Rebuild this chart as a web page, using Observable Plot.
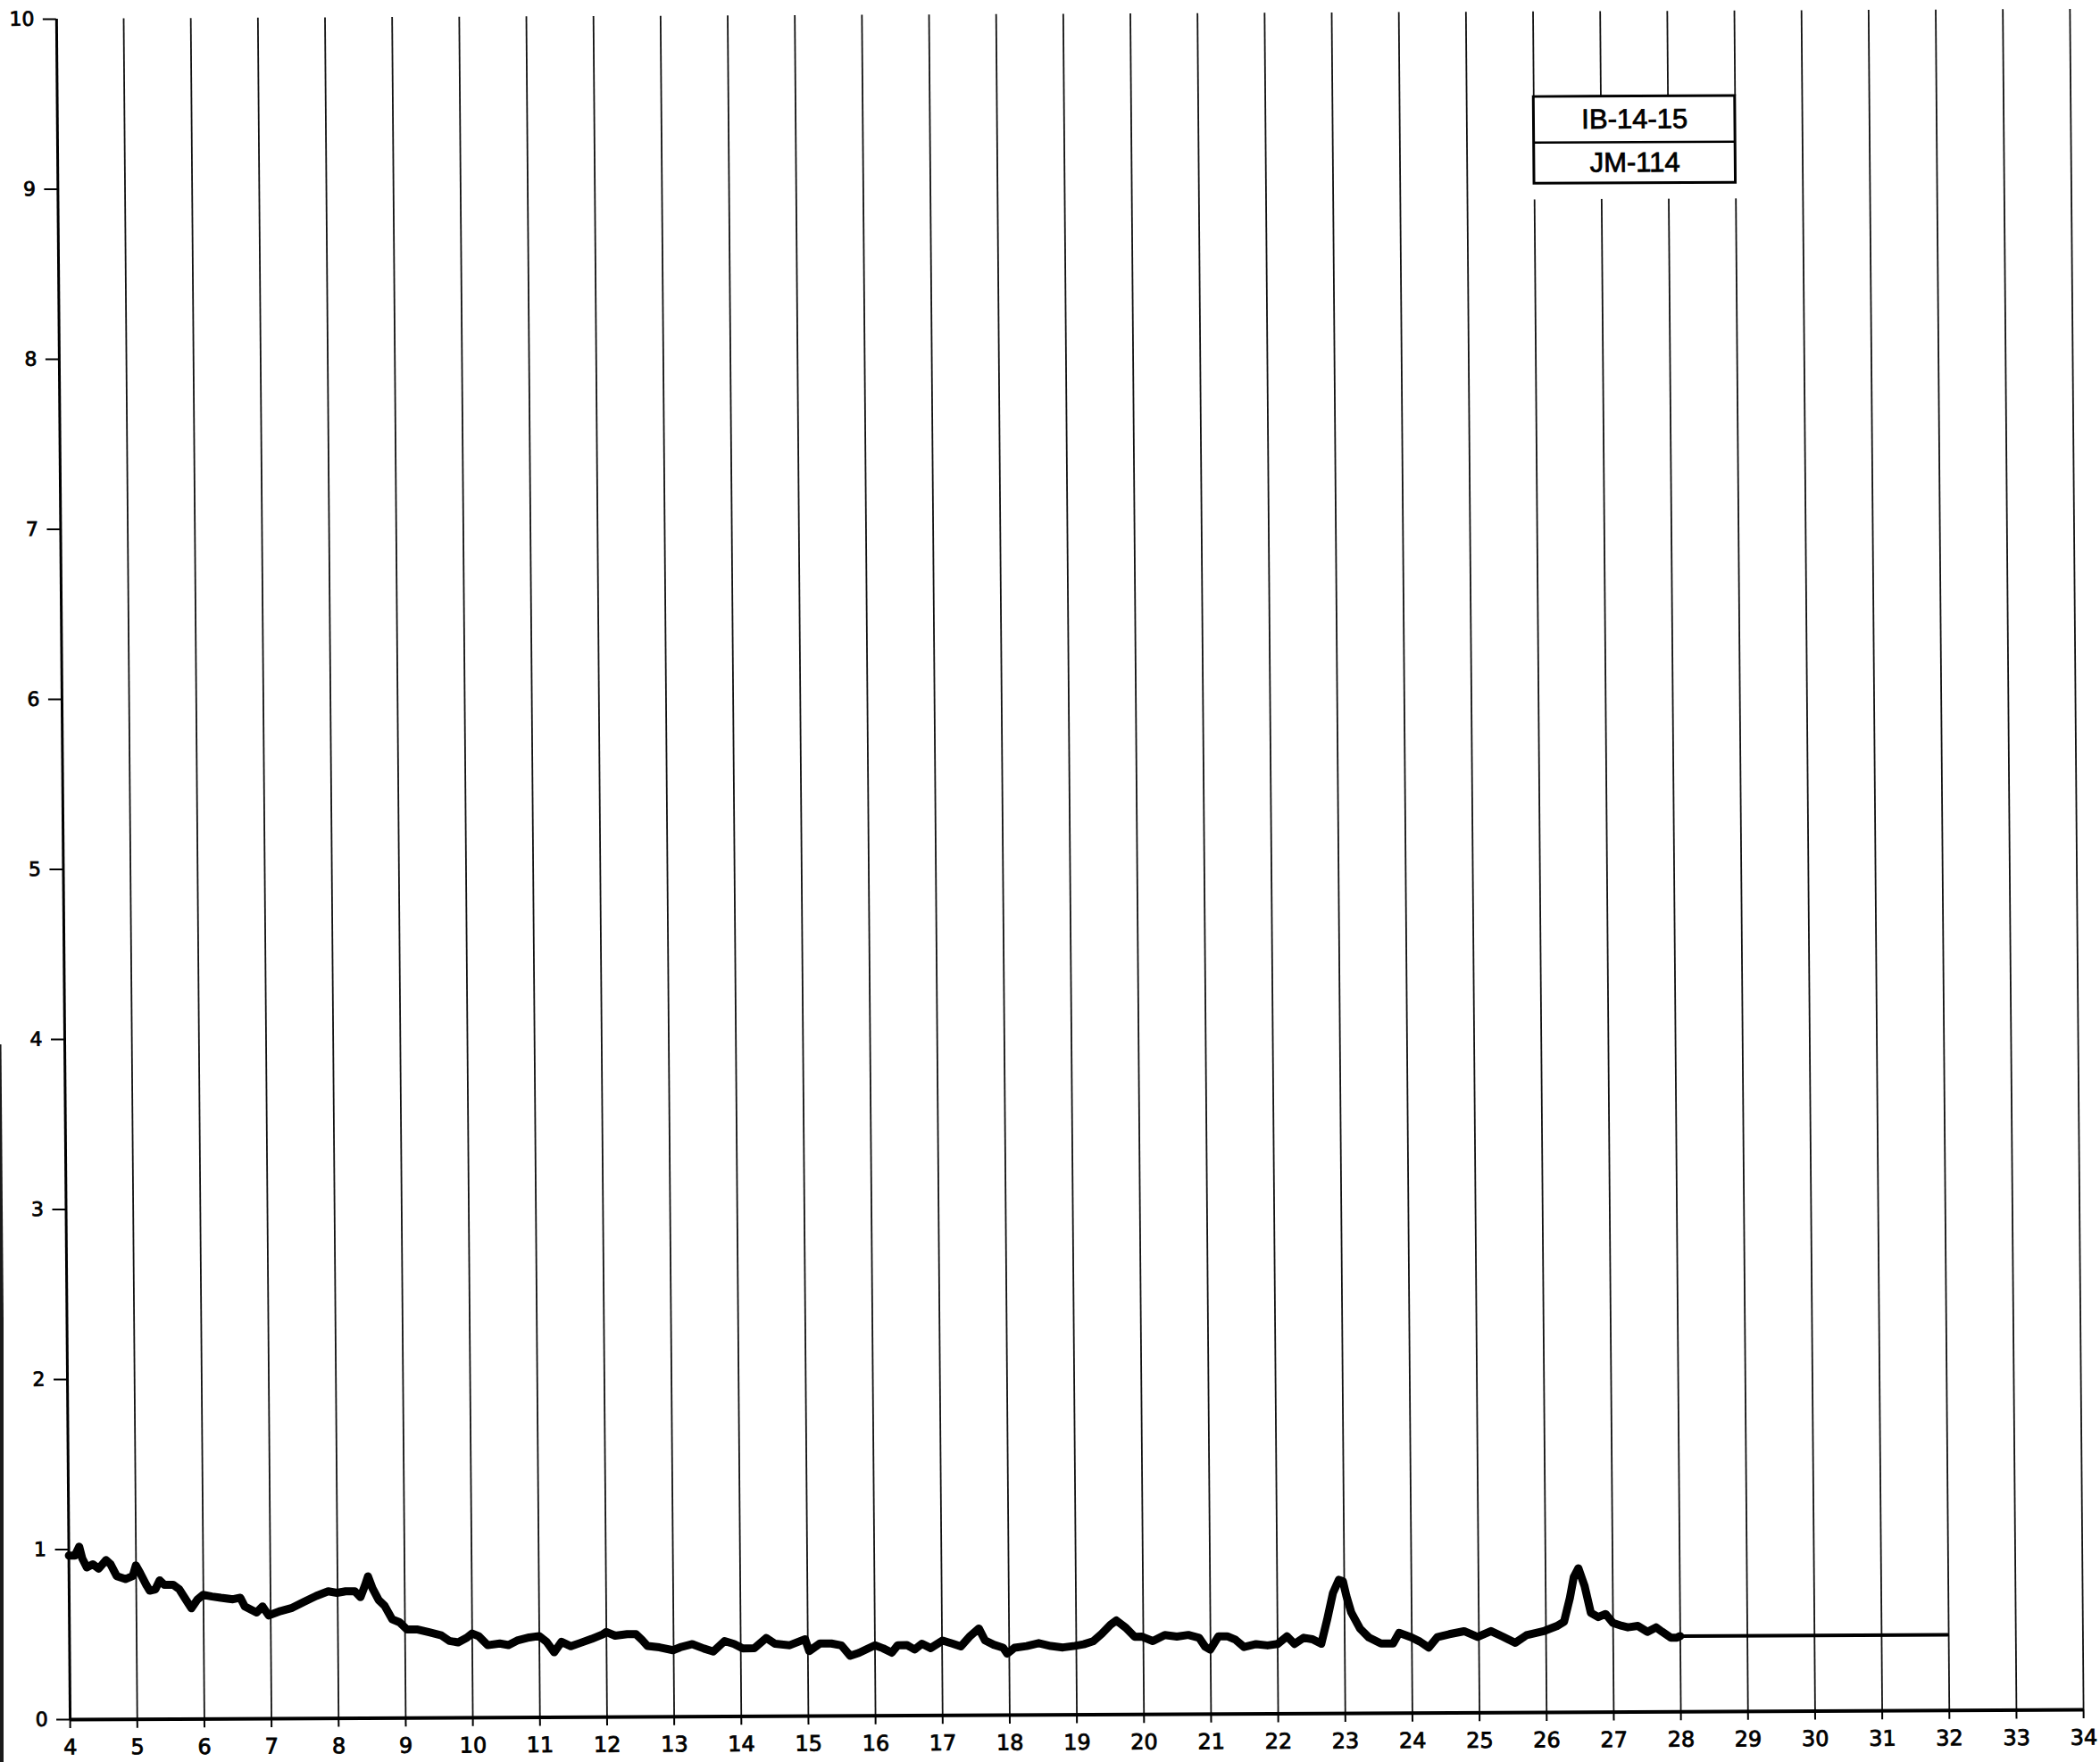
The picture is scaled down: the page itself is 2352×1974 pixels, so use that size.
<!DOCTYPE html>
<html><head><meta charset="utf-8">
<script src="https://cdn.jsdelivr.net/npm/d3@7"></script>
<script src="https://cdn.jsdelivr.net/npm/@observablehq/plot@0.6"></script>
<style>
html,body{margin:0;padding:0;background:#fff;overflow:hidden;}
#chart{position:relative;}
#chart svg{display:block;transform:matrix(1,-0.00488,0.008,1,0,0);transform-origin:1205px 973px;}
#chart svg text{stroke:black;stroke-width:0.8px;}
#edge{position:absolute;left:0;top:1170px;width:4px;height:804px;background:#1a1a1a;}
</style></head><body><div id="chart"><div id="edge"></div></div>
<script>
// tick labels
const xTicks = [4,5,6,7,8,9,10,11,12,13,14,15,16,17,18,19,20,21,22,23,24,25,26,27,28,29,30,31,32,33,34];
const yTicks = [0,1,2,3,4,5,6,7,8,9,10];
// legend box text
const labelLines = ["IB-14-15", "JM-114"];
const traceX = [4.0,4.09,4.155,4.2,4.266,4.355,4.443,4.554,4.62,4.71,4.84,4.95,4.997,5.06,5.15,5.2,5.285,5.35,5.42,5.55,5.64,5.75,5.82,5.91,5.995,6.13,6.26,6.44,6.55,6.615,6.79,6.88,6.97,7.15,7.32,7.5,7.68,7.86,7.99,8.12,8.255,8.34,8.41,8.455,8.52,8.61,8.70,8.81,8.92,9.03,9.19,9.36,9.54,
9.66,9.79,9.92,10.0,10.1,10.23,10.41,10.54,10.67,10.85,11.0,11.11,11.22,11.33,11.47,11.6,11.78,11.95,12.0,12.13,12.31,12.44,12.53,12.61,12.79,12.99,13.1,13.28,13.45,13.59,13.76,13.9,14.03,14.2,14.38,14.51,14.73,14.96,15.02,15.18,15.35,
15.5,15.63,15.76,15.9,16.0,16.12,16.25,16.34,16.48,16.59,16.7,16.83,17.01,17.15,17.28,17.42,17.55,17.64,17.77,17.91,17.97,18.08,18.26,18.44,18.62,18.8,18.98,19.11,19.25,19.38,19.51,19.6,19.74,19.87,19.98,20.14,20.32,20.5,20.67,20.83,20.92,20.995,21.12,21.25,
21.37,21.5,21.68,21.85,22.0,22.14,22.25,22.39,22.52,22.65,22.74,22.83,22.92,22.98,23.03,23.1,23.23,23.36,23.54,23.72,23.81,23.99,24.12,24.25,24.38,24.56,24.78,24.98,25.18,25.36,25.54,25.71,25.98,26.16,26.27,26.36,26.42,26.49,26.58,26.67,26.78,26.89,27.0,27.13,27.22,
27.37,27.51,27.64,27.73,27.86,27.95,28.0];
const traceY = [0.965,0.965,1.017,0.947,0.895,0.913,0.887,0.937,0.913,0.843,0.825,0.843,0.905,0.86,0.79,0.756,0.764,0.817,0.79,0.79,0.764,0.695,0.651,0.703,0.73,0.72,0.712,0.703,0.712,0.66,0.625,0.66,0.607,0.633,0.651,0.686,0.72,0.747,0.738,0.747,0.747,0.712,0.782,0.834,0.764,0.695,0.66,0.581,0.563,0.52,0.52,0.503,0.485,
0.452,0.443,0.47,0.495,0.478,0.426,0.435,0.426,0.452,0.47,0.478,0.443,0.382,0.443,0.417,0.435,0.46,0.487,0.5,0.478,0.487,0.487,0.452,0.417,0.408,0.391,0.408,0.426,0.4,0.382,0.443,0.426,0.4,0.4,0.46,0.426,0.417,0.452,0.382,0.426,0.426,
0.414,0.353,0.37,0.396,0.414,0.396,0.37,0.414,0.414,0.388,0.422,0.396,0.44,0.422,0.405,0.466,0.51,0.44,0.414,0.396,0.361,0.396,0.405,0.422,0.405,0.396,0.405,0.414,0.431,0.475,0.527,0.553,0.51,0.457,0.457,0.431,0.466,0.457,0.466,0.449,0.396,0.379,0.457,0.457,
0.437,0.393,0.41,0.402,0.41,0.455,0.41,0.446,0.437,0.41,0.551,0.708,0.786,0.777,0.69,0.594,0.498,0.446,0.41,0.41,0.472,0.446,0.42,0.385,0.446,0.463,0.48,0.446,0.48,0.446,0.41,0.455,0.48,0.507,0.533,0.673,0.795,0.847,0.743,0.585,0.559,0.577,0.524,0.507,0.498,
0.506,0.471,0.497,0.471,0.436,0.436,0.445];
// flat baseline segment after the scan
const flatX = [28.0, 31.98];
const flatY = [0.445, 0.445];

const trace = traceX.map((x, i) => ({x, y: traceY[i]}));
const flat = flatX.map((x, i) => ({x, y: flatY[i]}));

const chart = Plot.plot({
  width: 2352, height: 1974,
  marginLeft: 70.5, marginRight: 26.5, marginTop: 15.4, marginBottom: 53.5,
  x: {domain: [4, 34]},
  y: {domain: [0, 10]},
  style: {fontFamily: "DejaVu Sans", background: "white", color: "black"},
  marks: [
    Plot.ruleX(xTicks.filter(d => d > 4), {y1: 0, y2: 10, stroke: "#111", strokeWidth: 1.8}),
    Plot.rect([0], {x1: 25.9, x2: 29.1, y1: 8.895, y2: 9.5, fill: "white"}),
    Plot.rect([0], {x1: 26, x2: 29, y1: 8.99, y2: 9.5, fill: "white", stroke: "black", strokeWidth: 3}),
    Plot.ruleY([9.231], {x1: 26, x2: 29, stroke: "black", strokeWidth: 2.5}),
    Plot.text(labelLines, {x: 27.5, y: (d, i) => (i === 0 ? 9.365 : 9.11), text: d => d, fontSize: 31, fontFamily: "Liberation Sans", fill: "black"}),
    Plot.axisX({ticks: xTicks, tickSize: 10, tickPadding: 12, fontSize: 24, strokeWidth: 2, label: null}),
    Plot.axisY({ticks: yTicks, tickSize: 15, tickPadding: 10, fontSize: 22, strokeWidth: 2, label: null}),
    Plot.ruleX([4], {y1: 0, y2: 10, stroke: "black", strokeWidth: 3}),
    Plot.ruleY([0], {x1: 4, x2: 34, stroke: "black", strokeWidth: 4}),
    Plot.line(trace, {x: "x", y: "y", stroke: "black", strokeWidth: 9, strokeLinejoin: "round"}),
    Plot.line(flat, {x: "x", y: "y", stroke: "black", strokeWidth: 4})
  ]
});
document.getElementById("chart").appendChild(chart);
</script>
</body></html>
